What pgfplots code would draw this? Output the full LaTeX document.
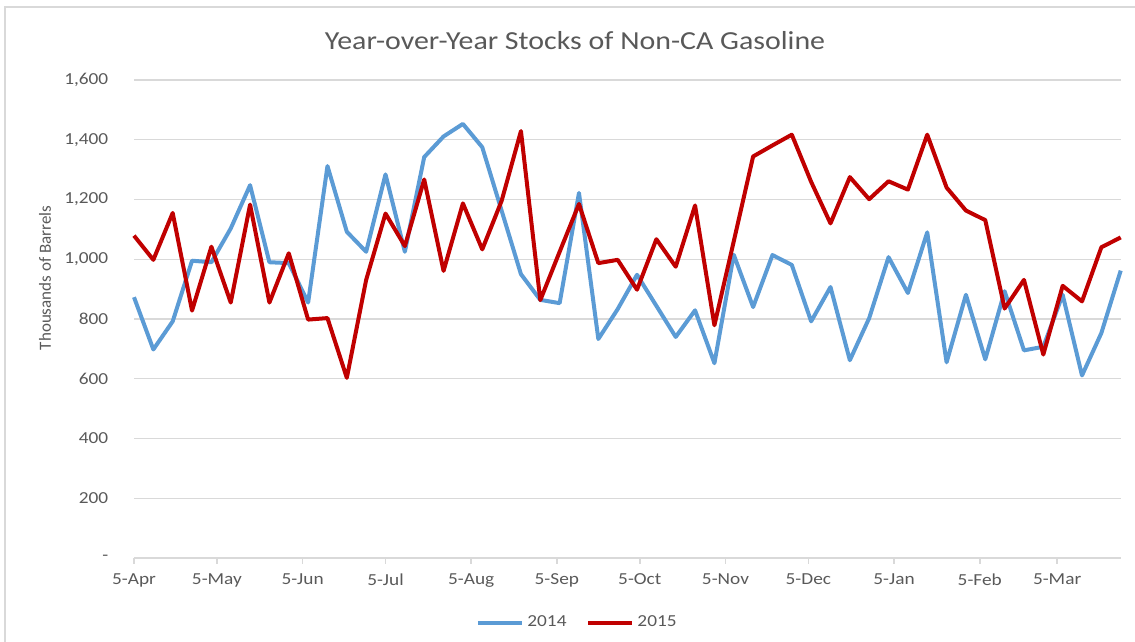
\documentclass[border=0pt]{standalone}
\usepackage{pgfplots}
\pgfplotsset{compat=1.18}
\usepackage{fontspec}
\setmainfont{Carlito}
\definecolor{tickgray}{HTML}{595959}
\definecolor{gridgray}{HTML}{D9D9D9}
\definecolor{sblue}{HTML}{5B9BD5}
\definecolor{sred}{HTML}{C00000}
\begin{document}
\begin{tikzpicture}
\useasboundingbox (0,0) rectangle (567.5pt,321pt);
\draw[gridgray, line width=0.6pt] (2.5pt,-10pt) -- (2.5pt,317.5pt) -- (580pt,317.5pt);
\begin{axis}[
  at={(67pt,42pt)}, anchor=south west,
  scale only axis, width=493.35pt, height=239pt,
  xmin=0, xmax=357, ymin=0, ymax=1600,
  axis x line*=bottom, axis y line*=left,
  y axis line style={draw=none},
  x axis line style={draw=gridgray, line width=0.8pt, -},
  ymajorgrids, grid style={gridgray, line width=0.6pt},
  ytick={0,200,400,600,800,1000,1200,1400,1600},
  yticklabels={{-},200,400,600,800,{1,000},{1,200},{1,400},{1,600}},
  ytick style={draw=none},
  xtick={0,30,61,91,122,153,183,214,244,275,306,334},
  xticklabels={5-Apr,5-May,5-Jun,5-Jul,5-Aug,5-Sep,5-Oct,5-Nov,5-Dec,5-Jan,5-Feb,5-Mar},
  xtick align=outside, major tick length=3pt,
  xtick style={draw=gridgray, line width=0.8pt},
  yticklabel style={font=\fontsize{8.4}{10}\selectfont, text=tickgray, xscale=1.15, anchor=east, inner sep=0pt, xshift=-11pt},
  xticklabel style={font=\fontsize{8.4}{10}\selectfont, text=tickgray, xscale=1.15, anchor=north, inner sep=0pt, yshift=-4.5pt},
  legend style={at={(0.45,-0.135)}, anchor=center, legend columns=2, draw=none, fill=none,
    font=\fontsize{8.4}{10}\selectfont, text=tickgray, nodes={xscale=1.15, inner sep=1.5pt},
    /tikz/every even column/.append style={column sep=8pt}},
  legend image code/.code={\draw[#1, line width=2pt] (0pt,0pt) -- (22pt,0pt);},
  clip=false,
]
\addplot[sblue, line width=2pt, line join=round] coordinates {
(0,873)(7,698)(14,792)(21,995)(28,990)(35,1103)(42,1248)(49,990)(56,987)(63,855)
(70,1312)(77,1092)(84,1025)(91,1284)(98,1025)(105,1342)(112,1411)(119,1453)(126,1375)(133,1163)
(140,950)(147,864)(154,853)(161,1222)(168,733)(175,833)(182,948)(189,844)(196,740)(203,829)
(210,652)(217,1015)(224,840)(231,1014)(238,981)(245,792)(252,907)(259,662)(266,803)(273,1007)
(280,887)(287,1090)(294,655)(301,881)(308,665)(315,893)(322,695)(329,707)(336,881)(343,611)
(350,753)(357,962)
};
\addlegendentry{2014}
\addplot[sred, line width=2pt, line join=round] coordinates {
(0,1079)(7,998)(14,1155)(21,828)(28,1042)(35,855)(42,1183)(49,855)(56,1020)(63,798)
(70,803)(77,603)(84,931)(91,1153)(98,1044)(105,1267)(112,961)(119,1187)(126,1033)(133,1195)
(140,1429)(147,863)(154,1025)(161,1185)(168,987)(175,998)(182,898)(189,1067)(196,975)(203,1180)
(210,779)(217,1060)(224,1344)(231,1381)(238,1417)(245,1259)(252,1120)(259,1275)(266,1201)(273,1261)
(280,1233)(287,1417)(294,1240)(301,1163)(308,1131)(315,835)(322,931)(329,681)(336,911)(343,859)
(350,1040)(357,1073)
};
\addlegendentry{2015}
\end{axis}
\node[text=tickgray, font=\fontsize{13}{15}\selectfont, xscale=1.15] at (287.5pt,300.5pt) {Year-over-Year Stocks of Non-CA Gasoline};
\node[text=tickgray, font=\fontsize{8.5}{10}\selectfont, rotate=90] at (22.5pt,182pt) {Thousands of Barrels};
\end{tikzpicture}
\end{document}
